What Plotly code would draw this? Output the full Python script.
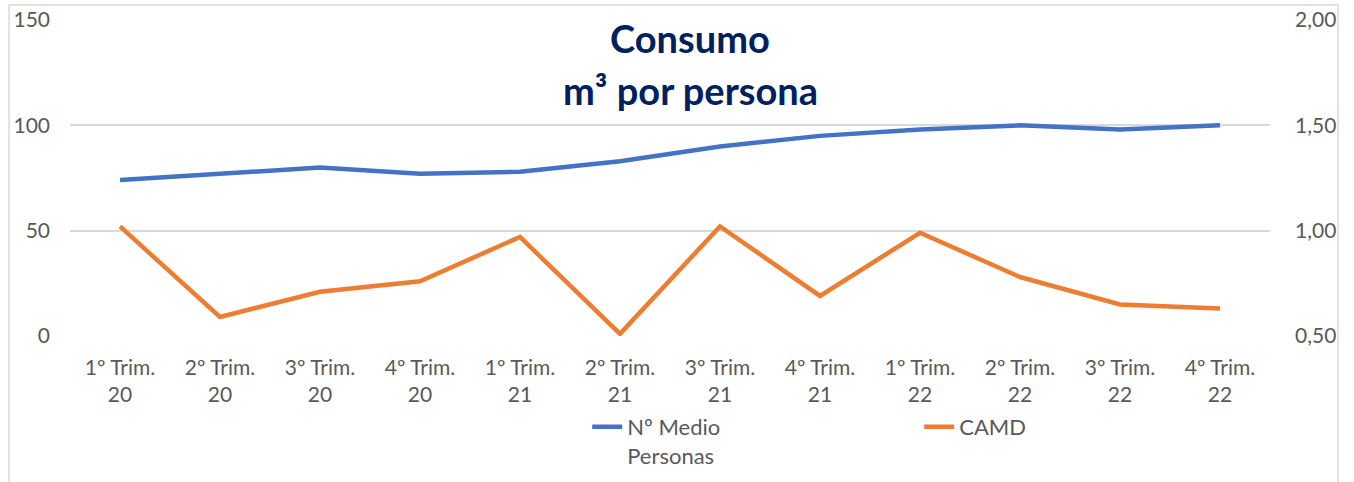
import plotly.graph_objects as go

categories = ["1º Trim.<br>20", "2º Trim.<br>20", "3º Trim.<br>20", "4º Trim.<br>20",
              "1º Trim.<br>21", "2º Trim.<br>21", "3º Trim.<br>21", "4º Trim.<br>21",
              "1º Trim.<br>22", "2º Trim.<br>22", "3º Trim.<br>22", "4º Trim.<br>22"]
personas = [74, 77, 80, 77, 78, 83, 90, 95, 98, 100, 98, 100]
camd = [1.02, 0.59, 0.71, 0.76, 0.97, 0.51, 1.02, 0.69, 0.99, 0.78, 0.65, 0.63]
title_lines = ["Consumo", "m³ por persona"]

FONT = "Lato"
fig = go.Figure()
fig.add_trace(go.Scatter(x=categories, y=personas, name="Nº Medio<br>Personas", mode="lines",
                         line=dict(color="#4472C4", width=4.5), yaxis="y"))
fig.add_trace(go.Scatter(x=categories, y=camd, name="CAMD", mode="lines",
                         line=dict(color="#ED7D31", width=4.5), yaxis="y2"))

fig.update_layout(
    width=1354, height=482,
    margin=dict(l=70, r=84, t=20, b=146, autoexpand=False),
    paper_bgcolor="white", plot_bgcolor="white",
    separators=",.",
    font=dict(family=FONT, size=21, color="#595959"),
    xaxis=dict(range=[-0.5, 11.5], showgrid=False, showline=False, ticks="",
               tickfont=dict(size=21, color="#595959"), ticklabelstandoff=17, automargin=False),
    yaxis=dict(range=[0, 150], tickvals=[0, 50, 100, 150], showgrid=True, gridcolor="#D9D9D9",
               gridwidth=1.5, zeroline=False, showline=False, ticklabelstandoff=19, automargin=False),
    yaxis2=dict(range=[0.5, 2.0], tickvals=[0.5, 1.0, 1.5, 2.0], tickformat=".2f", overlaying="y",
                side="right", showgrid=False, zeroline=False, showline=False, ticklabelstandoff=24,
                automargin=False),
    legend=dict(orientation="h", x=0.431, xanchor="left", y=-0.221, yanchor="top",
                font=dict(size=22, color="#595959"), entrywidth=287, valign="top",
                bgcolor="rgba(0,0,0,0)"),
    shapes=[dict(type="rect", xref="paper", yref="paper", x0=-0.0508, x1=1.0567, y0=-1.0, y1=1.0475,
                 line=dict(color="#D9D9D9", width=1.5), layer="below")],
    annotations=[
        dict(text=title_lines[0], xref="paper", yref="paper", x=0.517, y=(336 - 38) / 316,
             xanchor="center", yanchor="middle", showarrow=False,
             font=dict(family=FONT, size=38, color="#002060", weight="bold")),
        dict(text=title_lines[1], xref="paper", yref="paper", x=0.517, y=(336 - 90) / 316,
             xanchor="center", yanchor="middle", showarrow=False,
             font=dict(family=FONT, size=38, color="#002060", weight="bold")),
    ],
)
fig.write_html("out.html", config={"displayModeBar": False},
               post_script="document.body.style.margin='0';")
